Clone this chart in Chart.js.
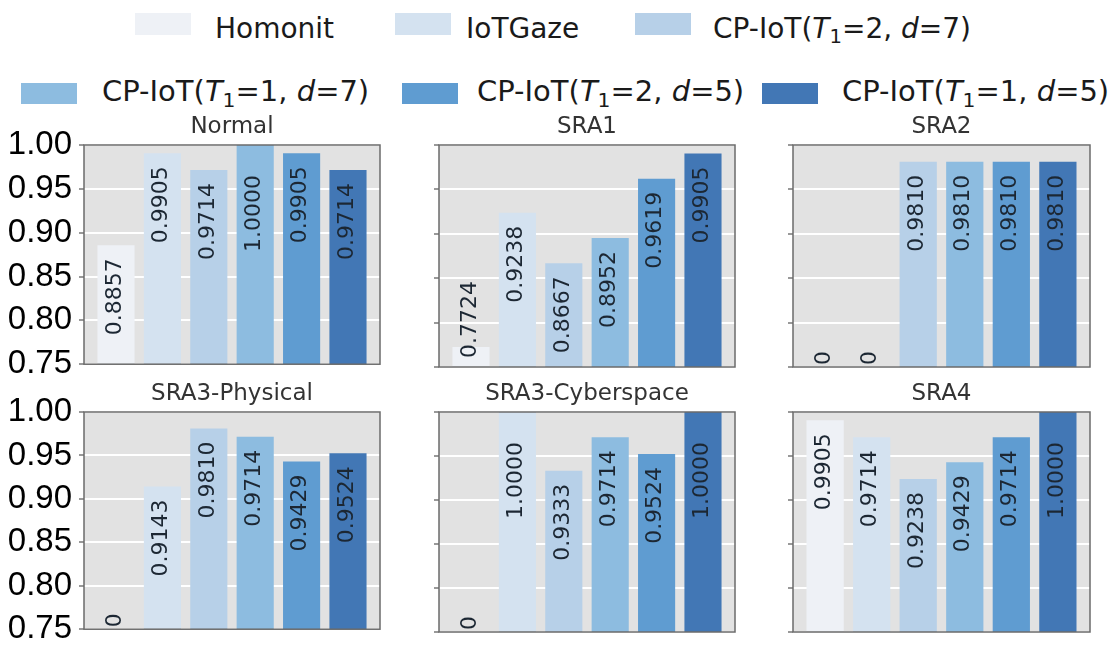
<!DOCTYPE html>
<html>
<head>
<meta charset="utf-8">
<script src="https://cdn.jsdelivr.net/npm/chart.js@4.4.1/dist/chart.umd.min.js"></script>
<style>
  html, body { margin: 0; padding: 0; background: #ffffff; }
  #fig { position: relative; width: 1120px; height: 645px; overflow: hidden; font-family: 'DejaVu Sans', sans-serif; }
  #fig canvas { position: absolute; }
  .sw { position: absolute; }
  .lt { position: absolute; white-space: nowrap; line-height: 1; color: #1a1a1a; }
  .lt sub { font-size: 0.7em; vertical-align: -0.28em; line-height: 0; }
</style>
</head>
<body>
<div id="fig"></div>
<script>
// ---- data ----
const panelTitles = ['Normal', 'SRA1', 'SRA2', 'SRA3-Physical', 'SRA3-Cyberspace', 'SRA4'];
const seriesNames = ['Homonit', 'IoTGaze', 'CP-IoT(T1=2, d=7)', 'CP-IoT(T1=1, d=7)', 'CP-IoT(T1=2, d=5)', 'CP-IoT(T1=1, d=5)'];

// one value per panel, in panelTitles order
const homonit = [0.8857, 0.7724, 0,      0,      0,      0.9905];
const iotGaze = [0.9905, 0.9238, 0,      0.9143, 1.0000, 0.9714];
const cpT2d7  = [0.9714, 0.8667, 0.9810, 0.9810, 0.9333, 0.9238];
const cpT1d7  = [1.0000, 0.8952, 0.9810, 0.9714, 0.9714, 0.9429];
const cpT2d5  = [0.9905, 0.9619, 0.9810, 0.9429, 0.9524, 0.9714];
const cpT1d5  = [0.9714, 0.9905, 0.9810, 0.9524, 1.0000, 1.0000];
const seriesValues = [homonit, iotGaze, cpT2d7, cpT1d7, cpT2d5, cpT1d5];

const yTickValues = [0.75, 0.80, 0.85, 0.90, 0.95, 1.00];

// ---- styles / layout ----
const seriesColors = ['#eef1f6', '#d4e2f0', '#b7d0e8', '#8dbce0', '#5f9cd1', '#4277b5'];
const Y_MIN = 0.75, Y_MAX = 1.0;
const X_MIN = -0.69, X_MAX = 5.69;
const axLefts = [84, 439, 793];
const axWidths = [296, 296, 297];
const axTops = [145, 412];
const axHeights = [222, 220];
const AXIS_W = 84, TITLE_H = 36, PAD_R = 12, PAD_B = 24;

const legendRows = [
  { swTop: 13, swH: 22, font: 28, textTop: 15 },
  { swTop: 83, swH: 21, font: 29, textTop: 77 }
];
const legendSlots = [
  { row: 0, sw: 135, tx: 215 }, { row: 0, sw: 395, tx: 466 }, { row: 0, sw: 635, tx: 713 },
  { row: 1, sw: 21,  tx: 102 }, { row: 1, sw: 402, tx: 477 }, { row: 1, sw: 762, tx: 842 }
];
const SW_W = 56;

const fig = document.getElementById('fig');

// ---- legend ----
function legendHtml(name) {
  return name.replace('T1=', '<i>T</i><sub>1</sub>=').replace('d=', '<i>d</i>=');
}
seriesNames.forEach((name, i) => {
  const slot = legendSlots[i];
  const row = legendRows[slot.row];
  const sw = document.createElement('div');
  sw.className = 'sw';
  Object.assign(sw.style, {
    left: slot.sw + 'px', top: row.swTop + 'px',
    width: SW_W + 'px', height: row.swH + 'px', background: seriesColors[i]
  });
  fig.appendChild(sw);
  const t = document.createElement('div');
  t.className = 'lt';
  t.style.left = slot.tx + 'px';
  t.style.top = row.textTop + 'px';
  t.style.fontSize = row.font + 'px';
  t.innerHTML = legendHtml(name);
  fig.appendChild(t);
});

// ---- plugins ----
const panelFrame = {
  id: 'panelFrame',
  beforeDraw(chart) {
    const { ctx, chartArea: a } = chart;
    ctx.save();
    ctx.fillStyle = '#e2e2e2';
    ctx.fillRect(a.left, a.top, a.right - a.left, a.bottom - a.top);
    ctx.restore();
  },
  afterDatasetsDraw(chart) {
    const { ctx, chartArea: a } = chart;
    ctx.save();
    ctx.strokeStyle = '#6b6b6b';
    ctx.lineWidth = 1.5;
    ctx.strokeRect(a.left, a.top, a.right - a.left, a.bottom - a.top);
    ctx.restore();
  }
};

const valueLabels = {
  id: 'valueLabels',
  afterDatasetsDraw(chart) {
    const { ctx, chartArea: a, scales: { y } } = chart;
    ctx.save();
    ctx.font = '22px "DejaVu Sans"';
    ctx.fillStyle = '#1c2733';
    ctx.textBaseline = 'middle';
    chart.data.datasets.forEach((ds, i) => {
      const meta = chart.getDatasetMeta(i);
      meta.data.forEach((bar, j) => {
        const v = ds.data[j].y;
        const text = v === 0 ? '0' : v.toFixed(4);
        const w = ctx.measureText(text).width;
        const topPx = Math.max(y.getPixelForValue(v), a.top);
        const gap = v >= Y_MAX ? 30 : 13;
        let anchor, align;
        if (topPx + gap + w <= a.bottom - 4) {
          anchor = topPx + gap; align = 'right';
        } else {
          anchor = a.bottom - (v === 0 ? 2 : 9); align = 'left';
        }
        ctx.save();
        ctx.translate(bar.x - 1, anchor);
        ctx.rotate(-Math.PI / 2);
        ctx.textAlign = align;
        ctx.fillText(text, 0, 0);
        ctx.restore();
      });
    });
    ctx.restore();
  }
};

// ---- panels ----
panelTitles.forEach((title, p) => {
  const row = Math.floor(p / 3), col = p % 3;
  const w = AXIS_W + axWidths[col] + PAD_R;
  const h = TITLE_H + axHeights[row] + PAD_B;
  const canvas = document.createElement('canvas');
  canvas.width = w; canvas.height = h;
  canvas.style.left = (axLefts[col] - AXIS_W) + 'px';
  canvas.style.top = (axTops[row] - TITLE_H) + 'px';
  canvas.style.width = w + 'px'; canvas.style.height = h + 'px';
  fig.appendChild(canvas);

  new Chart(canvas, {
    type: 'bar',
    data: {
      datasets: seriesNames.map((name, i) => ({
        label: name,
        data: [{ x: i, y: seriesValues[i][p] }],
        backgroundColor: seriesColors[i],
        borderWidth: 0,
        grouped: false,
        categoryPercentage: 1,
        barPercentage: 0.8
      }))
    },
    options: {
      responsive: false,
      devicePixelRatio: 1,
      animation: false,
      layout: { padding: { left: 0, right: PAD_R, top: 0, bottom: PAD_B } },
      plugins: {
        legend: { display: false },
        tooltip: { enabled: false },
        title: {
          display: true,
          text: title,
          fullSize: false,
          color: '#333333',
          font: { family: 'DejaVu Sans', size: 23, weight: 'normal', lineHeight: '28px' },
          padding: { top: 4, bottom: 4 }
        }
      },
      scales: {
        x: { type: 'linear', display: false, offset: false, min: X_MIN, max: X_MAX },
        y: {
          min: Y_MIN, max: Y_MAX,
          afterBuildTicks: s => { s.ticks = yTickValues.map(v => ({ value: v })); },
          afterFit: s => { s.width = AXIS_W; },
          border: { display: false },
          grid: { color: '#ffffff', lineWidth: 2, tickColor: '#555555', tickLength: 5, tickWidth: 1.2 },
          ticks: {
            display: col === 0,
            autoSkip: false,
            padding: 7,
            color: '#000000',
            font: { family: 'Liberation Sans', size: 33 },
            callback: v => Number(v).toFixed(2)
          }
        }
      }
    },
    plugins: [panelFrame, valueLabels]
  });
});
</script>
</body>
</html>
